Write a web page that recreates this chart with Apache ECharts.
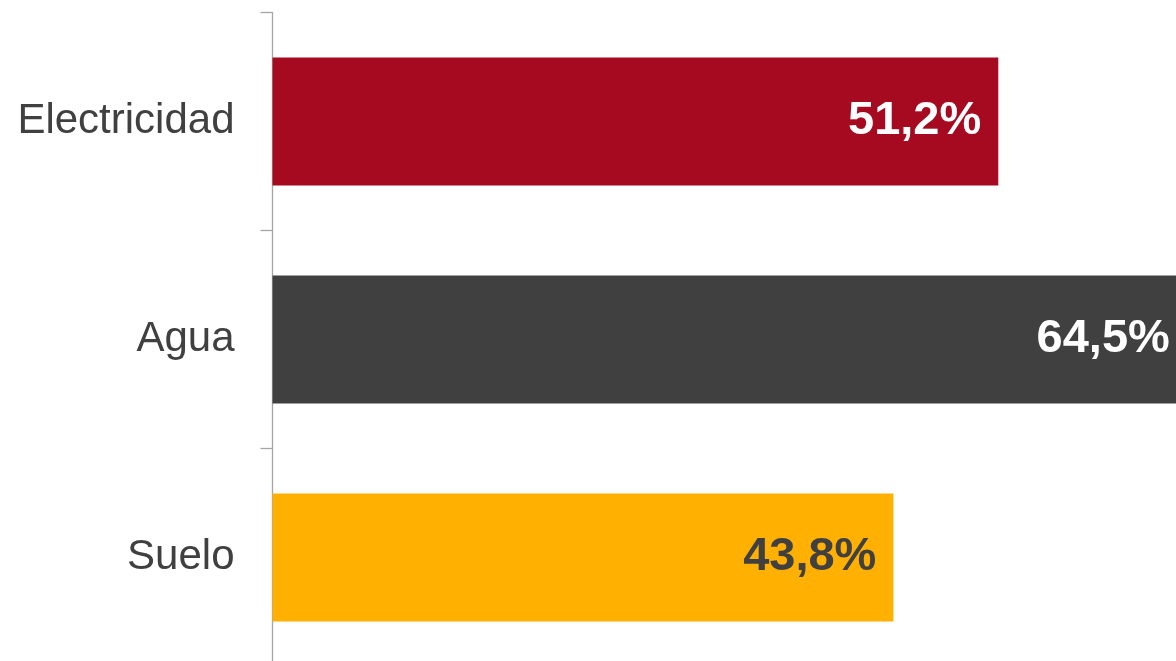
<!DOCTYPE html>
<html>
<head>
<meta charset="utf-8">
<script src="https://cdn.jsdelivr.net/npm/echarts@6/dist/echarts.min.js"></script>
<style>
  html, body { margin: 0; padding: 0; background: #ffffff; }
  #chart { width: 1176px; height: 661px; }
</style>
</head>
<body>
<div id="chart"></div>
<script>
// Share of each resource (%)
const categories = ['Electricidad', 'Agua', 'Suelo'];
const values = [51.2, 64.5, 43.8];
const barColors = ['#A50A20', '#404040', '#FFB000'];
const labelColors = ['#FFFFFF', '#FFFFFF', '#404040'];

const fmt = v => v.toFixed(1).replace('.', ',') + '%';

const chart = echarts.init(document.getElementById('chart'), null, { renderer: 'canvas' });

chart.setOption({
  animation: false,
  backgroundColor: '#ffffff',
  grid: {
    left: 272.5, top: 12.5, width: 992.3, height: 654,
    outerBoundsMode: 'none', containLabel: false
  },
  xAxis: {
    type: 'value',
    min: 0,
    max: 70,
    show: false
  },
  yAxis: {
    type: 'category',
    inverse: true,
    data: categories,
    axisLine: { show: true, lineStyle: { color: '#A6A6A6', width: 1.3 } },
    axisTick: { show: true, length: 12, lineStyle: { color: '#A6A6A6', width: 1.3 } },
    axisLabel: {
      margin: 38,
      color: '#404040',
      fontFamily: 'Liberation Sans, Arial, sans-serif',
      fontSize: 42
    },
    splitLine: { show: false }
  },
  series: [{
    type: 'bar',
    barWidth: 128,
    data: values.map((v, i) => ({
      value: v,
      itemStyle: { color: barColors[i] },
      label: { color: labelColors[i] }
    })),
    label: {
      show: true,
      position: 'insideRight',
      distance: 17,
      fontFamily: 'Liberation Sans, Arial, sans-serif',
      fontWeight: 'bold',
      fontSize: 47,
      formatter: p => fmt(p.value)
    }
  }]
});
</script>
</body>
</html>
